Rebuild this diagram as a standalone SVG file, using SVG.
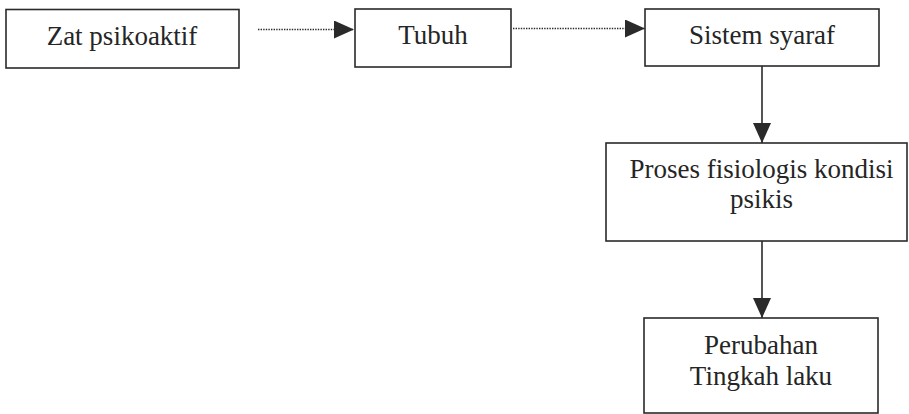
<svg xmlns="http://www.w3.org/2000/svg" width="909" height="414" viewBox="0 0 909 414">
<style>
.box{fill:#fff;stroke:#2a2a2a;stroke-width:1.6}
.t{font-family:"Liberation Serif","Times New Roman",serif;font-size:27px;fill:#252525;text-anchor:middle}
.solid{stroke:#2a2a2a;stroke-width:1.6;fill:none}
.dot{stroke:#2a2a2a;stroke-width:1.4;fill:none;stroke-dasharray:1.4 1.2}
</style>
<defs>
<marker id="ah" viewBox="0 0 20 18" refX="20" refY="9" markerWidth="20" markerHeight="18" markerUnits="userSpaceOnUse" orient="auto">
<path d="M0,0 L20,9 L0,18 Z" fill="#2a2a2a" stroke="none"/>
</marker>
</defs>
<rect width="909" height="414" fill="#fff"/>
<g id="connectors">
<line class="dot" x1="258" y1="29.5" x2="354" y2="29.5" marker-end="url(#ah)"/>
<line class="dot" x1="513" y1="28.5" x2="645" y2="28.5" marker-end="url(#ah)"/>
<line class="solid" x1="762" y1="66" x2="762" y2="143" marker-end="url(#ah)"/>
<line class="solid" x1="762" y1="241" x2="762" y2="318" marker-end="url(#ah)"/>
</g>
<g id="zat">
<rect class="box" x="6" y="9.5" width="233" height="58.5"/>
<text class="t" x="122" y="45">Zat psikoaktif</text>
</g>
<g id="tubuh">
<rect class="box" x="355" y="9" width="156" height="58"/>
<text class="t" x="433" y="44">Tubuh</text>
</g>
<g id="sistem">
<rect class="box" x="645" y="9" width="234" height="57"/>
<text class="t" x="762" y="44">Sistem syaraf</text>
</g>
<g id="proses">
<rect class="box" x="606" y="143" width="301" height="98"/>
<text class="t" x="761.5" y="178">Proses fisiologis kondisi</text>
<text class="t" x="761.5" y="208">psikis</text>
</g>
<g id="perubahan">
<rect class="box" x="644" y="318" width="234" height="95"/>
<text class="t" x="761" y="354">Perubahan</text>
<text class="t" x="761" y="385">Tingkah laku</text>
</g>
</svg>
